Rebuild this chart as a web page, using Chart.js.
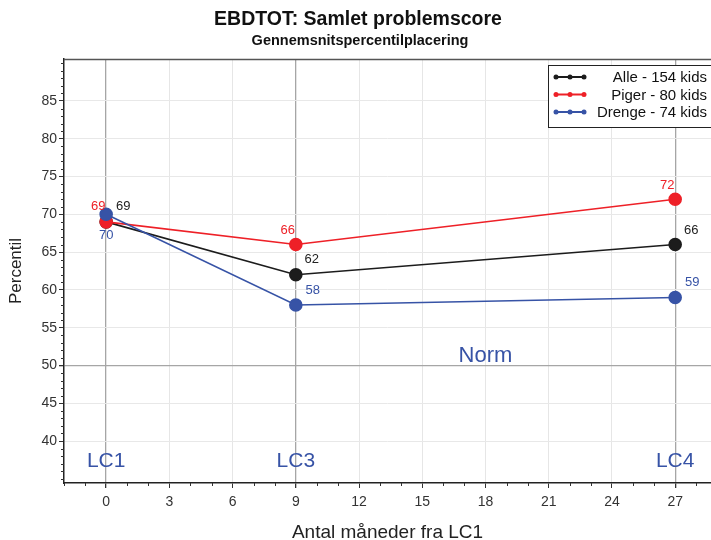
<!DOCTYPE html>
<html>
<head>
<meta charset="utf-8">
<title>EBDTOT: Samlet problemscore</title>
<script src="https://cdn.jsdelivr.net/npm/chart.js@4.4.1/dist/chart.umd.min.js"></script>
<style>
  html, body { margin: 0; padding: 0; background: #fff; }
  #wrap { width: 711px; height: 540px; }
</style>
</head>
<body>
<div id="wrap"><canvas id="chart" width="711" height="540"></canvas></div>
<script>
// Data
const months = [0, 9, 27];
const alleValues = [69, 62, 66];
const pigerValues = [69, 66, 72];
const drengeValues = [70, 58, 59];
const seriesNames = ['Alle - 154 kids', 'Piger - 80 kids', 'Drenge - 74 kids'];
const xTickValues = [0, 3, 6, 9, 12, 15, 18, 21, 24, 27];
const yTickValues = [40, 45, 50, 55, 60, 65, 70, 75, 80, 85];
const phaseNames = ['LC1', 'LC3', 'LC4'];
const normValue = 50;

// Styles
const colors = { alle: '#1c1c1c', piger: '#ee2027', drenge: '#3753a6' };
const FONT = '"Liberation Sans", Arial, sans-serif';
// label offsets (px) per serie, per punkt
const labelOffsets = {
    alle:   [[17, -15], [16, -15], [16, -14]],
    piger:  [[-8, -15], [-8, -14], [-8, -14]],
    drenge: [[0, 21], [17, -15], [17, -15]]
};
const phaseLabelY = 37.3;
const normLabel = { x: 18, y: 51.3 };

function points(values) {
    return months.map((m, i) => ({ x: m, y: values[i] }));
}

function makeDataset(label, values, color, order, key) {
    return {
        label: label,
        data: points(values),
        borderColor: color,
        backgroundColor: color,
        pointBackgroundColor: color,
        pointBorderColor: color,
        pointRadius: 6,
        pointHoverRadius: 6,
        borderWidth: 1.6,
        tension: 0,
        clip: false,
        order: order,
        key: key
    };
}

// Titler, ekstra linjer, tekster
const decorPlugin = {
    id: 'decor',
    afterDraw(chart) {
        const c = chart.ctx;
        const area = chart.chartArea;
        const xs = chart.scales.x;
        const ys = chart.scales.y;
        c.save();

        // titel
        c.fillStyle = '#111';
        c.textAlign = 'center';
        c.textBaseline = 'middle';
        c.font = 'bold 19.5px ' + FONT;
        c.fillText('EBDTOT: Samlet problemscore', 358, 20);
        c.font = 'bold 14.5px ' + FONT;
        c.fillText('Gennemsnitspercentilplacering', 360, 41);

        // top-kant
        c.strokeStyle = '#555';
        c.lineWidth = 1.5;
        c.beginPath();
        c.moveTo(area.left, area.top + 0.5);
        c.lineTo(area.right, area.top + 0.5);
        c.stroke();

        // små ticks
        c.strokeStyle = '#333';
        c.lineWidth = 1;
        c.beginPath();
        for (let v = Math.ceil(xs.min); v <= xs.max; v++) {
            if (xTickValues.includes(v)) continue;
            const px = Math.round(xs.getPixelForValue(v)) + 0.5;
            c.moveTo(px, area.bottom);
            c.lineTo(px, area.bottom + 3);
        }
        for (let v = Math.ceil(ys.min); v <= ys.max; v++) {
            if (yTickValues.includes(v)) continue;
            const py = Math.round(ys.getPixelForValue(v)) + 0.5;
            c.moveTo(area.left, py);
            c.lineTo(area.left - 3, py);
        }
        c.stroke();

        // LC tekster og Norm
        c.fillStyle = colors.drenge;
        c.font = '21px ' + FONT;
        c.textAlign = 'center';
        c.textBaseline = 'middle';
        months.forEach((m, i) => {
            c.fillText(phaseNames[i], xs.getPixelForValue(m), ys.getPixelForValue(phaseLabelY));
        });
        c.font = '22px ' + FONT;
        c.fillText('Norm', xs.getPixelForValue(normLabel.x), ys.getPixelForValue(normLabel.y));

        // legende
        const lx = 548, ly = 65, lw = 170, lh = 62;
        c.fillStyle = '#fff';
        c.fillRect(lx, ly, lw, lh);
        c.strokeStyle = '#222';
        c.lineWidth = 1;
        c.strokeRect(lx + 0.5, ly + 0.5, lw, lh);
        const legendColors = [colors.alle, colors.piger, colors.drenge];
        c.font = '15px ' + FONT;
        c.textAlign = 'right';
        seriesNames.forEach((name, i) => {
            const y = ly + 12 + i * 17.5;
            c.strokeStyle = legendColors[i];
            c.fillStyle = legendColors[i];
            c.lineWidth = 2;
            c.beginPath();
            c.moveTo(555, y);
            c.lineTo(585, y);
            c.stroke();
            [556, 570, 584].forEach(px => {
                c.beginPath();
                c.arc(px, y, 2.5, 0, Math.PI * 2);
                c.fill();
            });
            c.fillStyle = '#111';
            c.fillText(name, 707, y + 1);
        });
        c.restore();
    },
    afterDatasetsDraw(chart) {
        const c = chart.ctx;
        c.save();
        c.font = '13px ' + FONT;
        c.textAlign = 'center';
        c.textBaseline = 'middle';
        chart.data.datasets.forEach((ds, di) => {
            const meta = chart.getDatasetMeta(di);
            const offs = labelOffsets[ds.key];
            c.fillStyle = ds.key === 'alle' ? '#222' : ds.borderColor;
            meta.data.forEach((pt, i) => {
                c.fillText(String(ds.data[i].y), pt.x + offs[i][0], pt.y + offs[i][1]);
            });
        });
        c.restore();
    }
};

const ctx = document.getElementById('chart').getContext('2d');
const chart = new Chart(ctx, {
    type: 'line',
    data: {
        datasets: [
            makeDataset(seriesNames[0], alleValues, colors.alle, 2, 'alle'),
            makeDataset(seriesNames[1], pigerValues, colors.piger, 1, 'piger'),
            makeDataset(seriesNames[2], drengeValues, colors.drenge, 0, 'drenge')
        ]
    },
    options: {
        responsive: false,
        animation: false,
        layout: { autoPadding: false, padding: { top: 59, left: 0, right: 0, bottom: 0 } },
        plugins: {
            legend: { display: false },
            tooltip: { enabled: false }
        },
        scales: {
            x: {
                type: 'linear',
                min: -2,
                max: 28.7,
                afterBuildTicks: s => { s.ticks = xTickValues.map(v => ({ value: v })); },
                afterFit: s => { s.height = 57; s.paddingLeft = 0; s.paddingRight = 0; },
                ticks: { color: '#333', font: { family: FONT, size: 14 }, padding: 6, maxRotation: 0 },
                grid: {
                    color: c => months.includes(c.tick && c.tick.value) ? '#a6a6a6' : '#e6e6e6',
                    lineWidth: c => months.includes(c.tick && c.tick.value) ? 1.3 : 1,
                    tickColor: '#333',
                    tickLength: 5
                },
                border: { color: '#222', width: 1.5 },
                title: {
                    display: true,
                    text: 'Antal måneder fra LC1',
                    color: '#222',
                    font: { family: FONT, size: 19 },
                    padding: { top: 0, bottom: -4 }
                }
            },
            y: {
                type: 'linear',
                min: 34.45,
                max: 90.55,
                afterBuildTicks: s => { s.ticks = yTickValues.map(v => ({ value: v })); },
                afterFit: s => { s.width = 64; },
                ticks: { color: '#333', font: { family: FONT, size: 14 }, padding: 2 },
                grid: {
                    color: c => (c.tick && c.tick.value === normValue) ? '#a6a6a6' : '#e8e8e8',
                    lineWidth: c => (c.tick && c.tick.value === normValue) ? 1.3 : 1,
                    tickColor: '#333',
                    tickLength: 5
                },
                border: { color: '#222', width: 1.5 },
                title: {
                    display: true,
                    text: 'Percentil',
                    color: '#222',
                    font: { family: FONT, size: 17 },
                    padding: { top: 6, bottom: 0 }
                }
            }
        }
    },
    plugins: [decorPlugin]
});
</script>
</body>
</html>
